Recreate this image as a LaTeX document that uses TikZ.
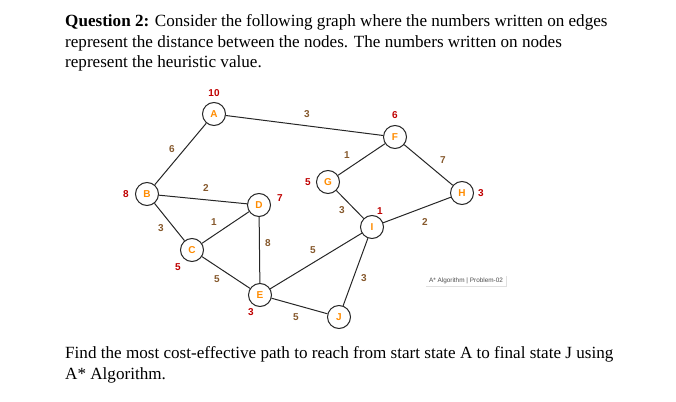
\documentclass[tikz,border=0pt]{standalone}
\usepackage{fontspec}
\setmainfont{Liberation Serif}
\setsansfont{Liberation Sans}
\begin{document}
\begin{tikzpicture}[x=1pt,y=-1pt,
  vtx/.style={circle,draw=black!85,line width=1pt,fill=white,minimum size=23pt,inner sep=0pt,
    font=\sffamily\bfseries\fontsize{10}{10}\selectfont,text=orange!90!yellow},
  edge/.style={line width=1pt,draw=black!85},
  hv/.style={font=\sffamily\bfseries\fontsize{10}{10}\selectfont,text=red!75!black},
  wt/.style={font=\sffamily\bfseries\fontsize{10}{10}\selectfont,text=brown!70!black},
  para/.style={anchor=base west,inner sep=0pt,font=\fontsize{17.1}{20}\selectfont}]
\useasboundingbox (0,0) rectangle (676,401);
% text
\node[para] (t1) at (65,27) {\textbf{Question 2:} Consider the following graph where the numbers written on edges};
\node[para] (t2) at (65,48) {represent the distance between the nodes. The numbers written on nodes};
\node[para] (t3) at (65,67.5) {represent the heuristic value.};
\node[para] (t4) at (65,358) {Find the most cost-effective path to reach from start state A to final state J using};
\node[para] (t5) at (65,379) {A* Algorithm.};
% nodes
\node[vtx] (A) at (214,114) {A};
\node[vtx] (B) at (147,194) {B};
\node[vtx] (C) at (192,250) {C};
\node[vtx] (D) at (259,205) {D};
\node[vtx] (E) at (260,295) {E};
\node[vtx] (F) at (395,137) {F};
\node[vtx] (G) at (328,182) {G};
\node[vtx] (H) at (462,193) {H};
\node[vtx] (I) at (372,227) {I};
\node[vtx] (J) at (339,317) {J};
% edges
\draw[edge] (A) -- (B);
\draw[edge] (A) -- (F);
\draw[edge] (B) -- (D);
\draw[edge] (B) -- (C);
\draw[edge] (C) -- (D);
\draw[edge] (D) -- (E);
\draw[edge] (C) -- (E);
\draw[edge] (E) -- (I);
\draw[edge] (E) -- (J);
\draw[edge] (G) -- (F);
\draw[edge] (F) -- (H);
\draw[edge] (G) -- (I);
\draw[edge] (I) -- (H);
\draw[edge] (I) -- (J);
% heuristics
\node[hv] (hA) at (214,93) {10};
\node[hv] (hB) at (126,194) {8};
\node[hv] (hD) at (280,198) {7};
\node[hv] (hF) at (395,115) {6};
\node[hv] (hG) at (308,182) {5};
\node[hv] (hH) at (481,193) {3};
\node[hv] (hC) at (178,267) {5};
\node[hv] (hE) at (251,312) {3};
\node[hv] (hI) at (380,211) {1};
% weights
\node[wt] (wAB) at (172,149) {6};
\node[wt] (wAF) at (307,114) {3};
\node[wt] (wBD) at (206,188) {2};
\node[wt] (wBC) at (161,228) {3};
\node[wt] (wCD) at (214,222) {1};
\node[wt] (wDE) at (268,243) {8};
\node[wt] (wCE) at (217,279) {5};
\node[wt] (wEI) at (313,250) {5};
\node[wt] (wEJ) at (296,317) {5};
\node[wt] (wGF) at (347,155) {1};
\node[wt] (wFH) at (443,160) {7};
\node[wt] (wGI) at (342,210) {3};
\node[wt] (wIH) at (425,222) {2};
\node[wt] (wIJ) at (364,278) {3};
% watermark
\fill[black!12] (426,276) rectangle (507,287);
\fill[white] (425,275) rectangle (506,286);
\node[font=\sffamily\fontsize{6.4}{7}\selectfont,text=black!70,inner sep=0pt] (wm) at (466,280.5) {A* Algorithm | Problem-02};
\end{tikzpicture}
\end{document}
